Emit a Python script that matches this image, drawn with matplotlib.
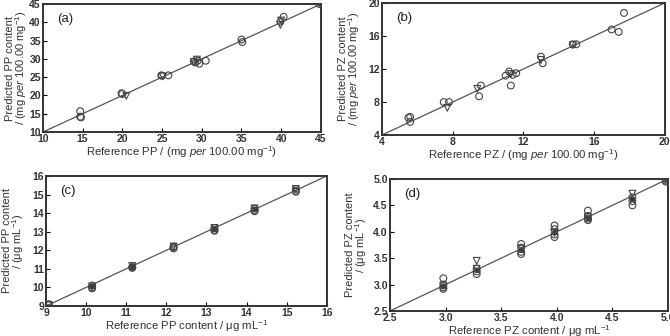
import matplotlib
matplotlib.use("Agg")
import matplotlib.pyplot as plt

plt.rcParams['font.family'] = ['Liberation Sans', 'DejaVu Sans']
plt.rcParams['mathtext.fontset'] = 'custom'
plt.rcParams['mathtext.rm'] = 'Liberation Sans'
plt.rcParams['mathtext.it'] = 'Liberation Sans:italic'

# ---------- Panel (a): PP, mg per 100.00 mg ----------
a_circ_x = [14.7, 14.7, 14.8, 19.9, 20.0, 24.9, 25.0, 25.8, 29.0, 29.2, 29.5, 29.7, 30.5, 35.0, 35.1, 40.3, 39.9, 44.8, 45.2]
a_circ_y = [15.7, 14.2, 14.0, 20.6, 20.4, 25.5, 25.4, 25.5, 29.3, 29.0, 29.5, 28.7, 29.5, 35.3, 34.6, 41.5, 40.2, 45.0, 44.8]
a_tri_x = [20.5, 25.1, 29.0, 29.4, 39.9, 40.0, 45.0]
a_tri_y = [19.9, 25.2, 29.1, 29.8, 39.3, 40.5, 45.0]
a_ticks = [10, 15, 20, 25, 30, 35, 40, 45]

# ---------- Panel (b): PZ, mg per 100.00 mg ----------
b_circ_x = [5.5, 5.6, 5.6, 7.5, 7.8, 9.5, 9.6, 11.0, 11.2, 11.3, 11.4, 11.6, 13.0, 13.1, 14.8, 15.0, 17.0, 17.4, 17.7]
b_circ_y = [6.1, 6.2, 5.6, 8.0, 8.0, 8.7, 10.0, 11.2, 11.7, 10.0, 11.3, 11.5, 13.5, 12.7, 15.0, 15.0, 16.8, 16.5, 18.8]
b_tri_x = [7.7, 9.4, 11.3, 13.0, 14.8]
b_tri_y = [7.3, 9.6, 11.4, 13.1, 14.9]
b_ticks = [4, 8, 12, 16, 20]

# ---------- Panel (c): PP, ug/mL ----------
c_circ_x = [9.07, 9.07, 10.15, 10.15, 10.15, 11.15, 11.15, 12.18, 12.18, 12.18, 13.2, 13.2, 13.2, 14.2, 14.2, 14.2, 15.23, 15.23, 15.23]
c_circ_y = [9.05, 9.1, 10.1, 10.0, 9.95, 11.1, 11.05, 12.2, 12.15, 12.1, 13.2, 13.1, 13.05, 14.25, 14.15, 14.1, 15.3, 15.15, 15.2]
c_tri_x = [9.07, 10.15, 11.15, 12.18, 13.2, 14.2, 15.23]
c_tri_y = [9.05, 10.05, 11.15, 12.2, 13.2, 14.25, 15.3]
c_sq_x = [10.15, 11.15, 13.2, 14.2]
c_sq_y = [10.1, 11.1, 13.15, 14.2]
c_ticks = [9, 10, 11, 12, 13, 14, 15, 16]

# ---------- Panel (d): PZ, ug/mL ----------
d_circ_x = [2.98, 2.98, 2.98, 2.98, 3.28, 3.28, 3.28, 3.68, 3.68, 3.68, 3.68, 3.98, 3.98, 3.98, 3.98, 4.28, 4.28, 4.28, 4.28, 4.68, 4.68, 4.68, 4.98, 4.98, 4.98]
d_circ_y = [3.12, 3.0, 2.95, 2.92, 3.3, 3.25, 3.2, 3.77, 3.7, 3.62, 3.58, 4.12, 4.05, 3.95, 3.9, 4.4, 4.3, 4.25, 4.22, 4.65, 4.58, 4.5, 5.0, 4.97, 4.95]
d_tri_x = [2.98, 3.28, 3.28, 3.68, 3.98, 4.28, 4.68, 4.98]
d_tri_y = [2.98, 3.45, 3.3, 3.68, 3.98, 4.28, 4.72, 5.0]
d_sq_x = [2.98, 3.28, 3.68, 3.98, 4.28, 4.68]
d_sq_y = [2.97, 3.28, 3.65, 4.0, 4.27, 4.62]
d_ticks = [2.5, 3.0, 3.5, 4.0, 4.5, 5.0]

fig = plt.figure(figsize=(6.7, 3.36), dpi=100)

def panel(rect, lim, ticks, cx, cy, tx, ty, sx, sy, label, xlabel, ylabel, fmt, ylx):
    ax = fig.add_axes(rect)
    ax.plot(lim, lim, color='#555555', lw=0.9, zorder=1)
    ax.scatter(cx, cy, s=24, facecolors='none', edgecolors='#444444', linewidths=0.8, zorder=3)
    ax.scatter(tx, ty, s=24, marker='v', facecolors='none', edgecolors='#444444', linewidths=0.8, zorder=3)
    if sx:
        ax.scatter(sx, sy, s=12, marker='s', facecolors='#333333', edgecolors='#333333', linewidths=0.6, zorder=2)
    ax.set_xlim(lim)
    ax.set_ylim(lim)
    ax.set_xticks(ticks)
    ax.set_yticks(ticks)
    ax.set_xticklabels([fmt.format(t) for t in ticks])
    ax.set_yticklabels([fmt.format(t) for t in ticks])
    ax.tick_params(direction='in', length=3, width=0.8, labelsize=7.5, pad=1.5)
    for lab in ax.get_xticklabels() + ax.get_yticklabels():
        lab.set_fontweight('bold')
        lab.set_color('#333333')
    for sp in ax.spines.values():
        sp.set_linewidth(1.4)
        sp.set_color('#333333')
    ax.text(0.05, 0.93, label, transform=ax.transAxes, fontsize=9.5, va='top', ha='left', color='#222222')
    ax.set_xlabel(xlabel, fontsize=8.2, labelpad=0.0, color='#333333')
    ax.set_ylabel(ylabel, fontsize=8.0, color='#333333', linespacing=0.85)
    ax.yaxis.set_label_coords(ylx, 0.5)
    return ax

panel([0.064, 0.607, 0.415, 0.381], [10, 45], a_ticks, a_circ_x, a_circ_y, a_tri_x, a_tri_y, None, None,
      '(a)', r'Reference PP / (mg $\it{per}$ 100.00 mg$^{-1}$)',
      'Predicted PP content\n' + r'/ (mg $\it{per}$ 100.00 mg$^{-1}$)', '{:g}', -0.05)
panel([0.570, 0.598, 0.422, 0.393], [4, 20], b_ticks, b_circ_x, b_circ_y, b_tri_x, b_tri_y, None, None,
      '(b)', r'Reference PZ / (mg $\it{per}$ 100.00 mg$^{-1}$)',
      'Predicted PZ content\n' + r'/ (mg $\it{per}$ 100.00 mg$^{-1}$)', '{:g}', -0.07)
panel([0.0687, 0.0893, 0.419, 0.387], [9, 16], c_ticks, c_circ_x, c_circ_y, c_tri_x, c_tri_y, c_sq_x, c_sq_y,
      '(c)', r'Reference PP content / μg mL$^{-1}$',
      'Predicted PP content\n' + r'/ (μg mL$^{-1}$)', '{:g}', -0.07)
panel([0.582, 0.0744, 0.415, 0.393], [2.5, 5.0], d_ticks, d_circ_x, d_circ_y, d_tri_x, d_tri_y, d_sq_x, d_sq_y,
      '(d)', r'Reference PZ content / μg mL$^{-1}$',
      'Predicted PZ content\n' + r'/ (μg mL$^{-1}$)', '{:.1f}', -0.075)

fig.savefig('out.png', dpi=100)
